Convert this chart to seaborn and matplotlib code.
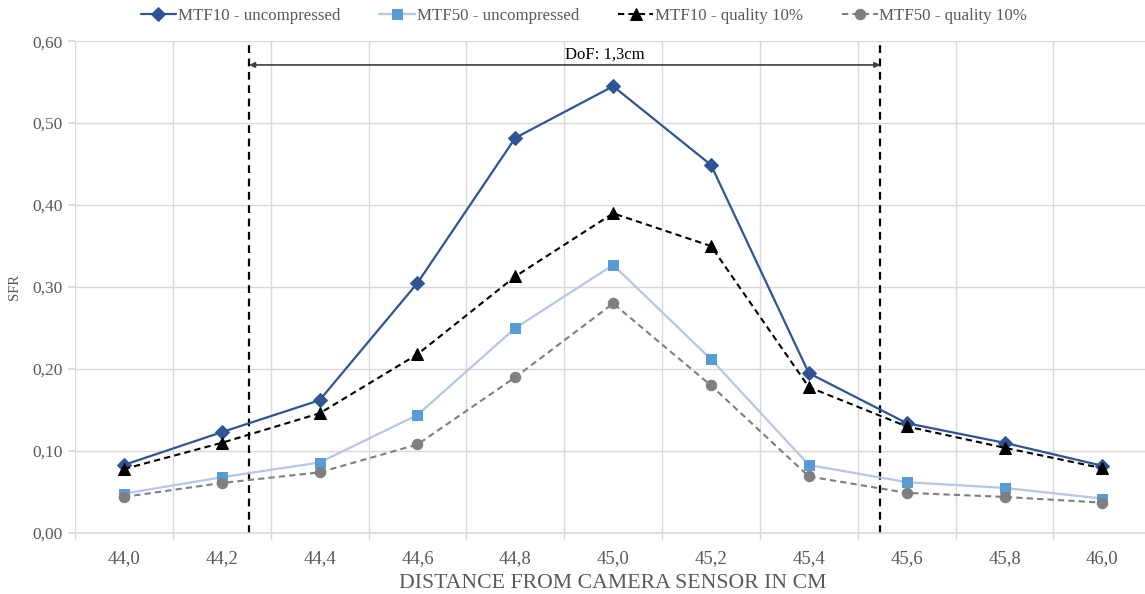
import pandas as pd
import numpy as np
import seaborn as sns
import matplotlib.pyplot as plt
from matplotlib.ticker import FuncFormatter, FixedLocator

# distances in cm (category axis)
distance = [44.0, 44.2, 44.4, 44.6, 44.8, 45.0, 45.2, 45.4, 45.6, 45.8, 46.0]
tick_labels = ["44,0", "44,2", "44,4", "44,6", "44,8", "45,0", "45,2", "45,4", "45,6", "45,8", "46,0"]

mtf10_uncompressed = [0.083, 0.123, 0.162, 0.305, 0.482, 0.545, 0.449, 0.195, 0.134, 0.110, 0.082]
mtf50_uncompressed = [0.048, 0.068, 0.086, 0.144, 0.250, 0.327, 0.212, 0.083, 0.062, 0.055, 0.042]
mtf10_q10 = [0.078, 0.110, 0.146, 0.218, 0.313, 0.390, 0.350, 0.178, 0.130, 0.104, 0.079]
mtf50_q10 = [0.044, 0.061, 0.074, 0.108, 0.190, 0.280, 0.180, 0.069, 0.049, 0.044, 0.037]

dof_left = 44.256
dof_right = 45.546
dof_text = "DoF: 1,3cm"

sns.set_theme(style="white")
plt.rcParams['font.family'] = ['Liberation Serif', 'DejaVu Serif']

pos = np.arange(len(distance))
df = pd.DataFrame({"pos": pos,
                   "MTF10 - uncompressed": mtf10_uncompressed,
                   "MTF50 - uncompressed": mtf50_uncompressed,
                   "MTF10 - quality 10%": mtf10_q10,
                   "MTF50 - quality 10%": mtf50_q10})

def to_pos(cm):
    # linear map from cm to category position
    return (cm - distance[0]) / (distance[1] - distance[0])

fig = plt.figure(figsize=(11.45, 5.94), dpi=100)
ax = fig.add_axes([0.0655, 0.1027, 0.94, 0.828])

sns.lineplot(data=df, x="pos", y="MTF10 - uncompressed", ax=ax, color="#2F5597", lw=1.6,
             marker="D", markersize=7, markeredgecolor="#2F5597", label="MTF10 - uncompressed")
sns.lineplot(data=df, x="pos", y="MTF50 - uncompressed", ax=ax, color="#B4C7E7", lw=1.6,
             marker="s", markersize=7.5, markerfacecolor="#5B9BD5", markeredgecolor="#5B9BD5",
             label="MTF50 - uncompressed")
sns.lineplot(data=df, x="pos", y="MTF10 - quality 10%", ax=ax, color="#000000", lw=1.5,
             marker="^", markersize=8.5, markeredgecolor="#000000", label="MTF10 - quality 10%")
sns.lineplot(data=df, x="pos", y="MTF50 - quality 10%", ax=ax, color="#7F7F7F", lw=1.5,
             marker="o", markersize=7.5, markeredgecolor="#7F7F7F", label="MTF50 - quality 10%")
for ln in ax.get_lines()[2:4]:
    ln.set_dashes((3, 2))

# depth of field markers
for d in (dof_left, dof_right):
    ax.plot([to_pos(d), to_pos(d)], [0, 0.6], color="black", lw=1.6, dashes=(3.5, 2.5), zorder=1)
ax.annotate("", xy=(to_pos(dof_left), 0.571), xytext=(to_pos(dof_right), 0.571),
            arrowprops=dict(arrowstyle="<|-|>", color="#404040", lw=1.2, mutation_scale=8,
                            shrinkA=0, shrinkB=0))
ax.text((to_pos(dof_left) + to_pos(dof_right)) / 2, 0.583, dof_text, ha="left", va="center",
        fontsize=12, color="black")

ax.set_xlim(-0.5, len(distance) - 0.5)
ax.set_ylim(0, 0.6)
ax.set_yticks(np.arange(0, 0.61, 0.1))
ax.yaxis.set_major_formatter(FuncFormatter(lambda v, p: f"{v:.2f}".replace(".", ",")))
ax.set_xticks(pos)
ax.set_xticklabels(tick_labels)
ax.xaxis.set_minor_locator(FixedLocator(np.arange(-0.5, len(distance), 1)))

grid_c = "#D9D9D9"
ax.grid(True, axis="y", which="major", color=grid_c, lw=1)
ax.grid(True, axis="x", which="minor", color=grid_c, lw=1)
ax.grid(False, axis="x", which="major")
ax.set_axisbelow(True)
for s in ["top", "right", "left"]:
    ax.spines[s].set_visible(False)
ax.spines["bottom"].set_color(grid_c)
ax.spines["bottom"].set_linewidth(1.2)

ax.tick_params(axis="x", which="major", length=0, pad=12, labelsize=13.5, labelcolor="#595959")
ax.tick_params(axis="x", which="minor", length=5, color=grid_c, bottom=True)
ax.tick_params(axis="y", length=5, color=grid_c, left=True, pad=4, labelsize=12.5, labelcolor="#595959")

ax.set_xlabel("DISTANCE FROM CAMERA SENSOR IN CM", fontsize=15.7, color="#595959", labelpad=5)
ax.set_ylabel("SFR", fontsize=10.5, color="#595959", labelpad=8)

ax.get_legend().remove()
handles, labels = ax.get_legend_handles_labels()
fig.legend(handles[:4], labels[:4], loc="upper center", bbox_to_anchor=(0.51, 1.013), ncol=4,
           frameon=False, fontsize=12.2, labelcolor="#595959", handlelength=2.1, columnspacing=2.3,
           handletextpad=0.1)

fig.savefig("out.png", dpi=100)
